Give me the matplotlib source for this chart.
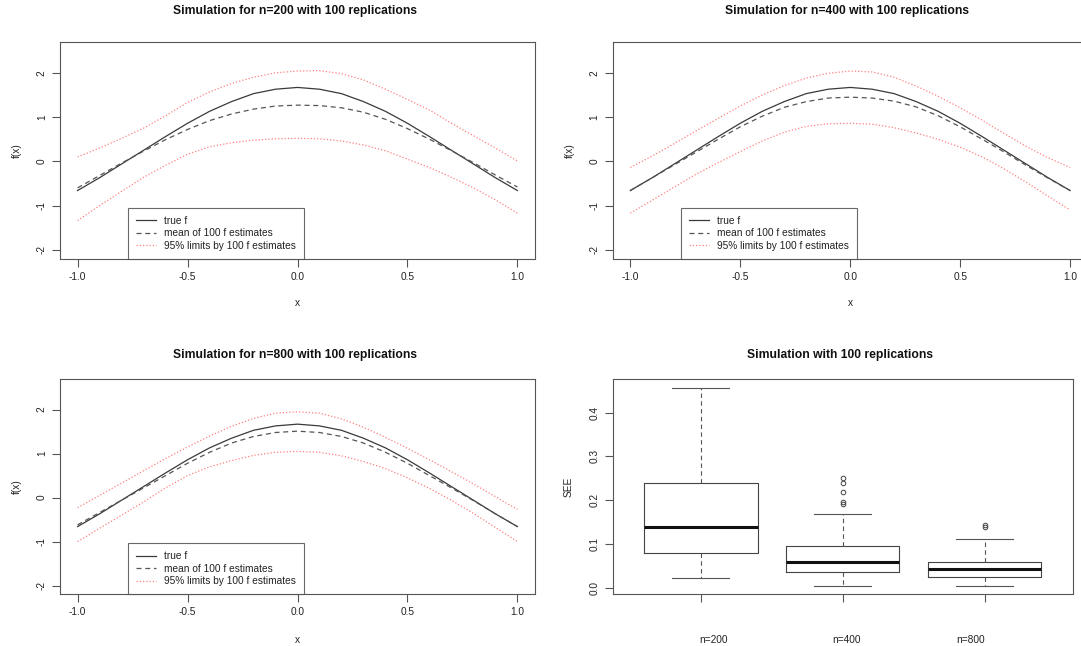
import matplotlib.pyplot as plt

plt.rcParams['font.family'] = ['Liberation Sans', 'DejaVu Sans']

# grid of x values where the curves were evaluated
x = [-1.0, -0.9, -0.8, -0.7, -0.6, -0.5, -0.4, -0.3, -0.2, -0.1, 0.0,
     0.1, 0.2, 0.3, 0.4, 0.5, 0.6, 0.7, 0.8, 0.9, 1.0]

true_f = [-0.66, -0.37, -0.06, 0.25, 0.56, 0.86, 1.13, 1.35, 1.53, 1.63, 1.67,
          1.63, 1.53, 1.35, 1.13, 0.86, 0.56, 0.25, -0.06, -0.37, -0.66]

mean_200 = [-0.60, -0.32, -0.04, 0.23, 0.49, 0.72, 0.92, 1.07, 1.18, 1.25, 1.27,
            1.26, 1.21, 1.11, 0.95, 0.74, 0.50, 0.24, -0.03, -0.31, -0.58]
upper_200 = [0.10, 0.30, 0.52, 0.75, 1.03, 1.33, 1.57, 1.76, 1.90, 2.00, 2.04,
             2.05, 1.98, 1.84, 1.63, 1.40, 1.16, 0.86, 0.58, 0.30, 0.01]
lower_200 = [-1.34, -1.00, -0.68, -0.36, -0.09, 0.16, 0.33, 0.42, 0.48, 0.51, 0.52,
             0.51, 0.46, 0.37, 0.24, 0.05, -0.14, -0.36, -0.60, -0.87, -1.17]

mean_400 = [-0.66, -0.37, -0.08, 0.21, 0.50, 0.78, 1.02, 1.22, 1.35, 1.43, 1.45,
            1.43, 1.36, 1.23, 1.03, 0.78, 0.50, 0.21, -0.09, -0.38, -0.66]
upper_400 = [-0.14, 0.12, 0.40, 0.69, 0.97, 1.25, 1.50, 1.71, 1.88, 1.99, 2.04,
             2.02, 1.90, 1.70, 1.47, 1.21, 0.93, 0.63, 0.34, 0.08, -0.14]
lower_400 = [-1.17, -0.88, -0.58, -0.29, -0.03, 0.22, 0.46, 0.66, 0.79, 0.85, 0.86,
             0.84, 0.76, 0.64, 0.50, 0.32, 0.10, -0.17, -0.47, -0.79, -1.10]

mean_800 = [-0.62, -0.34, -0.06, 0.22, 0.50, 0.78, 1.03, 1.24, 1.39, 1.48, 1.51,
            1.48, 1.39, 1.24, 1.03, 0.78, 0.50, 0.22, -0.07, -0.37, -0.66]
upper_800 = [-0.23, 0.05, 0.33, 0.61, 0.89, 1.15, 1.40, 1.62, 1.80, 1.92, 1.95,
             1.92, 1.79, 1.60, 1.37, 1.12, 0.86, 0.59, 0.31, 0.02, -0.27]
lower_800 = [-1.00, -0.70, -0.40, -0.10, 0.22, 0.50, 0.70, 0.84, 0.96, 1.03, 1.05,
             1.03, 0.95, 0.82, 0.66, 0.45, 0.21, -0.06, -0.36, -0.68, -1.00]

# SEE summaries over the 100 replications
groups = ['n=200', 'n=400', 'n=800']
see_whislo = [0.022, 0.003, 0.004]
see_q1 = [0.080, 0.035, 0.025]
see_med = [0.139, 0.059, 0.042]
see_q3 = [0.238, 0.095, 0.059]
see_whishi = [0.456, 0.168, 0.112]
see_fliers = [[], [0.191, 0.195, 0.219, 0.240, 0.251], [0.139, 0.143]]
group_label_x = [1.09, 2.03, 2.90]

W, H = 1081, 646
fig = plt.figure(figsize=(W / 100, H / 100), dpi=100)
FS = 7.25
EDGE = '#555555'
TXT = '#222222'


def add_ax(left, top, width, height):
    return fig.add_axes([left / W, 1 - (top + height) / H, width / W, height / H])


def style(ax):
    for s in ax.spines.values():
        s.set_color(EDGE)
        s.set_linewidth(0.8)
    ax.tick_params(length=5.5, width=0.8, color=EDGE, labelsize=FS,
                   labelcolor=TXT, pad=4)
    ax.tick_params(axis='y', labelrotation=90)
    for t in ax.get_yticklabels():
        t.set_va('center')


def curve_panel(ax, mean, lower, upper):
    ax.plot(x, true_f, color='#3a3a3a', lw=0.9, label='true f')
    ax.plot(x, mean, color='#555555', lw=0.9, ls=(0, (4, 3)),
            label='mean of 100 f estimates')
    ax.plot(x, lower, color='#ff8080', lw=0.9, ls=(0, (1, 1.6)),
            label='95% limits by 100 f estimates')
    ax.plot(x, upper, color='#ff8080', lw=0.9, ls=(0, (1, 1.6)))
    ax.set_xlim(-1.08, 1.08)
    ax.set_ylim(-2.2, 2.69)
    ax.set_xticks([-1.0, -0.5, 0.0, 0.5, 1.0])
    ax.set_xticklabels(['-1.0', '-0.5', '0.0', '0.5', '1.0'])
    ax.set_yticks([-2, -1, 0, 1, 2])
    ax.set_yticklabels(['-2', '-1', '0', '1', '2'])
    style(ax)
    ax.set_xlabel('x', fontsize=FS, color=TXT)
    ax.set_ylabel('f(x)', fontsize=FS, color=TXT)
    ax.xaxis.label.set_va('center')
    ax.yaxis.label.set_va('center')
    ax.yaxis.set_label_coords(-0.09, 0.5)
    leg = ax.legend(loc='lower left', bbox_to_anchor=(0.143, 0.0),
                    borderaxespad=0, fontsize=FS, frameon=True, fancybox=False,
                    borderpad=0.8, labelspacing=0.25, handlelength=2.0,
                    handletextpad=0.8)
    leg.get_frame().set_edgecolor('#444444')
    leg.get_frame().set_linewidth(0.8)
    for t in leg.get_texts():
        t.set_color(TXT)
    return ax


ax1 = add_ax(60, 42.3, 475, 216.4)
curve_panel(ax1, mean_200, lower_200, upper_200)
ax1.xaxis.set_label_coords(0.5, -0.205)

ax2 = add_ax(612.7, 42.3, 475, 216.4)
curve_panel(ax2, mean_400, lower_400, upper_400)
ax2.xaxis.set_label_coords(0.5, -0.205)

ax3 = add_ax(60, 379.3, 475, 215)
curve_panel(ax3, mean_800, lower_800, upper_800)
ax3.xaxis.set_label_coords(0.5, -0.212)

# boxplot of SEE
ax4 = add_ax(612.7, 379.3, 460, 215)
stats = []
for i in range(3):
    stats.append(dict(med=see_med[i], q1=see_q1[i], q3=see_q3[i],
                      whislo=see_whislo[i], whishi=see_whishi[i],
                      fliers=see_fliers[i], label=''))
ax4.bxp(stats, positions=[1, 2, 3], widths=0.8, capwidths=0.4,
        boxprops=dict(color='#444444', lw=0.8),
        medianprops=dict(color='#111111', lw=2.2),
        whiskerprops=dict(color='#555555', lw=0.8, ls=(0, (4, 3))),
        capprops=dict(color='#555555', lw=0.8),
        flierprops=dict(marker='o', markersize=3.3, markerfacecolor='none',
                        markeredgecolor='#444444', markeredgewidth=0.7))
ax4.set_xlim(0.38, 3.62)
ax4.set_ylim(-0.0152, 0.476)
ax4.set_xticks([1, 2, 3])
ax4.set_xticklabels(['', '', ''])
ax4.set_yticks([0.0, 0.1, 0.2, 0.3, 0.4])
ax4.set_yticklabels(['0.0', '0.1', '0.2', '0.3', '0.4'])
style(ax4)
ax4.set_ylabel('SEE', fontsize=FS, color=TXT)
ax4.yaxis.label.set_va('center')
ax4.yaxis.set_label_coords(-0.095, 0.5)
for gx, g in zip(group_label_x, groups):
    ax4.text(gx, -0.212, g, transform=ax4.get_xaxis_transform(),
             ha='center', va='center', fontsize=FS, color=TXT)

titles = [('Simulation for n=200 with 100 replications', 295, 11),
          ('Simulation for n=400 with 100 replications', 847, 11),
          ('Simulation for n=800 with 100 replications', 295, 355),
          ('Simulation with 100 replications', 840, 355)]
for text, cx, cy in titles:
    fig.text(cx / W, 1 - cy / H, text, ha='center', va='center',
             fontsize=8.7, fontweight='bold', color='#111111')

fig.savefig('out.png', dpi=100)
